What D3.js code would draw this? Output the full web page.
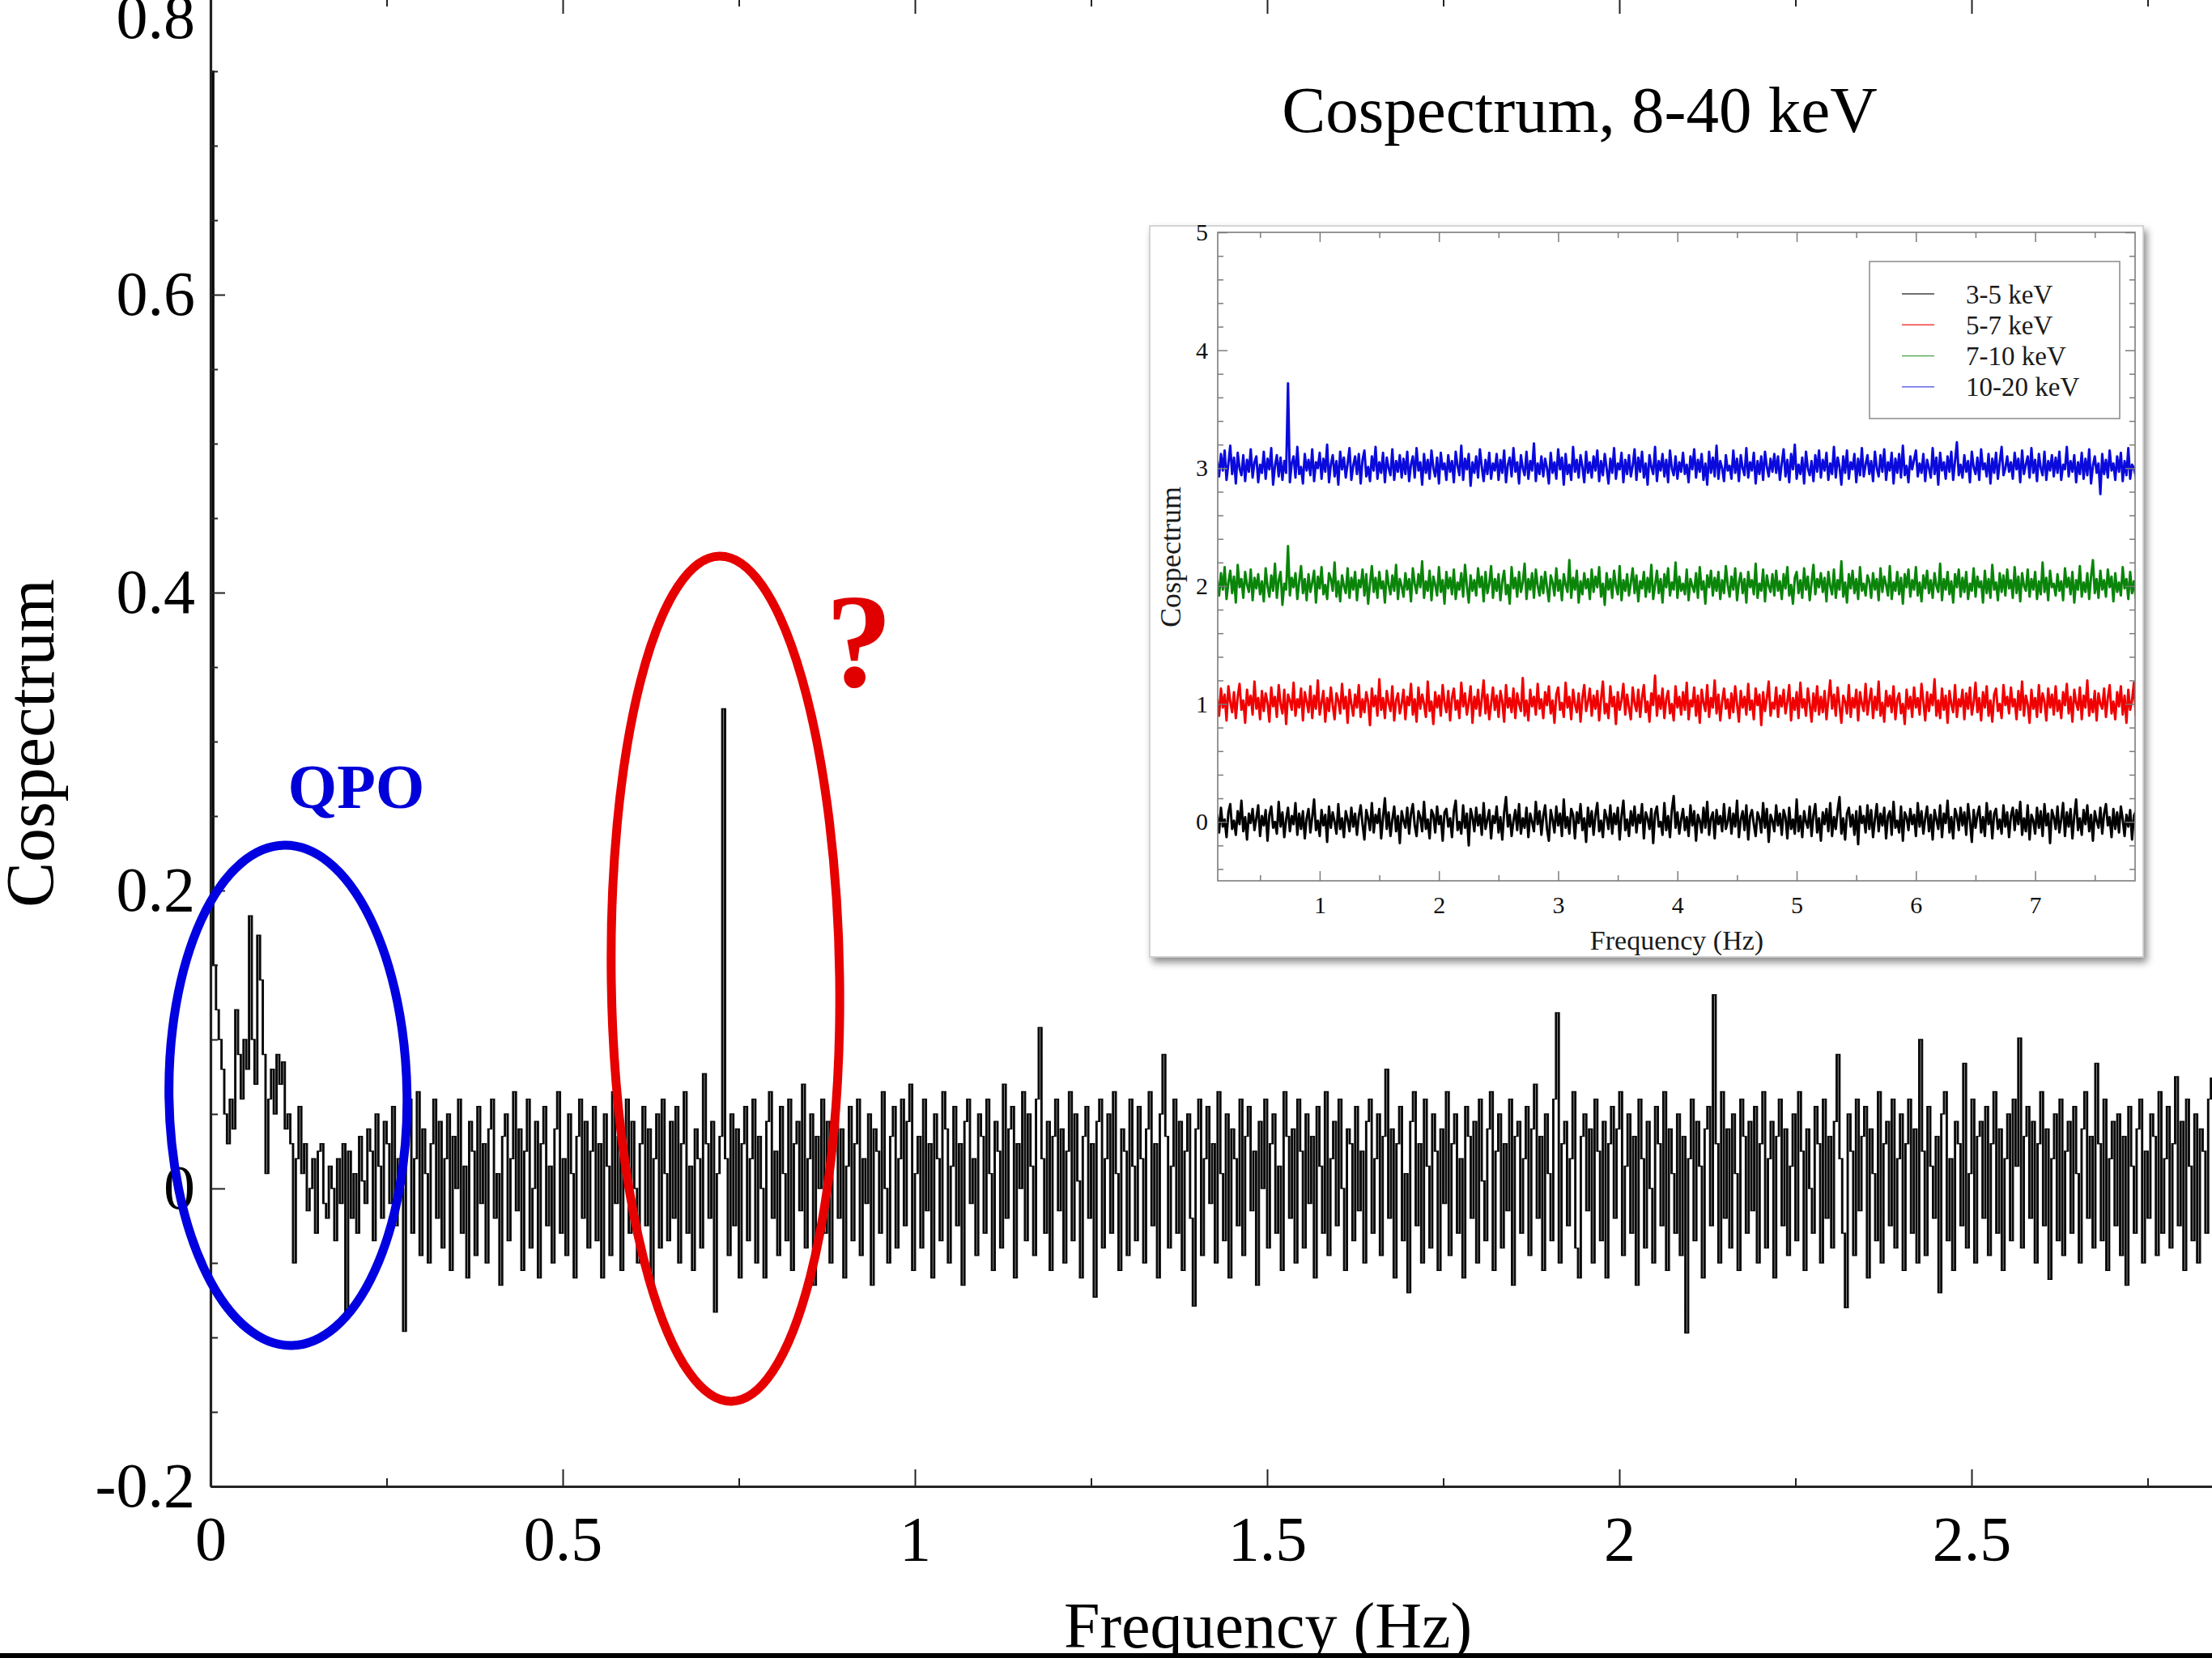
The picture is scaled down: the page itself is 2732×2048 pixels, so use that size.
<!DOCTYPE html>
<html>
<head>
<meta charset="utf-8">
<script src="https://cdn.jsdelivr.net/npm/d3@7"></script>
<style>
  html, body { margin: 0; padding: 0; background: #fff; }
  svg { display: block; }
  text { font-family: "Liberation Serif", "Times New Roman", serif; }
</style>
</head>
<body>
<svg id="chart" width="2732" height="2048"></svg>
<script>
// ---------- main cospectrum, 8-40 keV (bins of 1/256 Hz from 0 Hz) ----------
const binWidth = 1 / 256;
const cospectrum = [
  0.75, 0.15, 0.12, 0.10, 0.08, 0.05, 0.03, 0.06, 0.04, 0.12, 0.09, 0.06, 0.10, 0.08, 0.183, 0.10, 0.07, 0.17, 0.14, 0.09, 0.01, 0.06, 0.08, 0.05, 0.09, 0.07, 0.085, 0.04,
  0.05, 0.03, -0.05, 0.02, 0.055, 0.01, 0.03, -0.015, 0.0, 0.02, -0.03, 0.025, 0.03, -0.01, -0.02, 0.015, 0.0, -0.035, 0.02, -0.01, 0.03, -0.083, 0.025, -0.02, 0.01, -0.03, 0.035, 0.005,
  -0.01, 0.04, 0.025, -0.035, 0.05, 0.015, -0.02, 0.045, 0.03, -0.01, 0.055, -0.025, 0.02, 0.0, -0.096, 0.035, 0.06, -0.03, 0.02, 0.065, -0.045, 0.04, 0.01, -0.05, 0.03, 0.06, -0.02, 0.045,
  -0.04, 0.02, 0.05, -0.055, 0.035, 0.0, 0.06, -0.03, 0.015, -0.06, 0.045, 0.025, -0.045, 0.055, -0.01, 0.03, -0.05, 0.04, 0.06, -0.02, 0.01, -0.065, 0.035, 0.05, -0.035, 0.02, 0.065, -0.015,
  0.04, -0.055, 0.025, 0.06, -0.04, 0.0, 0.045, -0.06, 0.03, 0.055, -0.025, 0.015, -0.05, 0.04, 0.065, -0.03, 0.02, -0.045, 0.05, 0.01, -0.06, 0.035, 0.06, -0.02, 0.045, -0.04, 0.025, 0.055,
  -0.035, 0.03, -0.06, 0.05, 0.015, -0.045, 0.065, -0.01, 0.035, -0.055, 0.02, 0.06, -0.03, 0.045, 0.0, -0.05, 0.03, 0.055, -0.025, 0.04, -0.065, 0.02, 0.05, -0.04, 0.06, 0.01, -0.035, 0.045,
  -0.02, 0.055, -0.05, 0.03, 0.065, -0.03, 0.015, -0.055, 0.04, 0.02, -0.04, 0.077, 0.03, -0.02, 0.045, -0.083, 0.01, 0.035, 0.322, 0.02, -0.045, 0.05, -0.025, 0.04, -0.06, 0.03, 0.055, -0.035,
  0.02, 0.06, -0.05, 0.035, 0.0, -0.06, 0.045, 0.065, -0.02, 0.025, -0.045, 0.055, 0.01, -0.035, 0.06, -0.055, 0.03, 0.045, -0.015, 0.07, -0.04, 0.02, 0.05, -0.065, 0.035, 0.0, 0.06, -0.03,
  0.045, -0.05, 0.025, 0.065, -0.02, 0.04, -0.06, 0.015, 0.055, -0.035, 0.03, 0.06, -0.045, 0.02, -0.01, 0.05, -0.065, 0.04, 0.025, -0.03, 0.065, 0.0, -0.05, 0.035, 0.055, -0.04, 0.02, 0.06,
  -0.025, 0.045, 0.07, -0.055, 0.01, 0.035, -0.04, 0.06, -0.015, 0.03, -0.06, 0.05, 0.02, -0.035, 0.065, 0.04, -0.05, 0.015, 0.055, -0.025, 0.03, -0.065, 0.045, 0.06, -0.01, 0.02, -0.045, 0.05,
  0.035, -0.03, 0.06, 0.01, -0.055, 0.045, 0.025, -0.04, 0.07, -0.02, 0.04, 0.055, -0.06, 0.03, 0.0, 0.065, -0.035, 0.05, 0.015, -0.045, 0.06, 0.108, 0.02, -0.03, 0.045, -0.055, 0.035, 0.06,
  -0.015, 0.04, -0.05, 0.025, 0.065, -0.035, 0.05, 0.005, -0.06, 0.035, 0.055, -0.02, 0.03, -0.073, 0.045, 0.06, -0.04, 0.02, 0.05, -0.03, 0.065, 0.01, -0.055, 0.04, 0.025, -0.045, 0.06, 0.015,
  -0.035, 0.055, 0.02, -0.05, 0.04, 0.065, -0.025, 0.03, -0.06, 0.05, 0.09, 0.035, -0.04, 0.015, 0.06, -0.03, 0.045, -0.055, 0.025, 0.05, -0.02, -0.079, 0.04, 0.06, -0.045, 0.02, 0.055, -0.01,
  0.03, -0.05, 0.065, 0.01, -0.035, 0.05, -0.06, 0.04, 0.02, -0.025, 0.06, -0.045, 0.035, 0.055, -0.015, 0.025, -0.065, 0.045, 0.0, 0.06, -0.04, 0.03, 0.05, -0.03, 0.015, -0.055, 0.065, 0.035,
  -0.02, 0.04, -0.05, 0.06, 0.025, -0.04, 0.05, -0.01, 0.035, -0.06, 0.055, 0.015, -0.03, 0.065, -0.045, 0.02, 0.045, -0.025, 0.06, 0.0, -0.055, 0.04, 0.03, -0.035, 0.055, -0.015, 0.025, -0.05,
  0.045, 0.06, -0.03, 0.02, 0.05, -0.045, 0.035, 0.08, -0.02, 0.04, -0.06, 0.03, 0.055, -0.035, 0.01, -0.07, 0.045, 0.065, -0.025, 0.03, -0.05, 0.06, 0.015, -0.04, 0.05, 0.025, -0.055, 0.04,
  -0.01, 0.065, -0.045, 0.03, 0.05, -0.03, 0.02, -0.06, 0.055, 0.035, -0.02, 0.045, -0.05, 0.06, 0.005, -0.035, 0.04, 0.065, -0.055, 0.025, 0.05, -0.04, 0.03, -0.015, 0.06, -0.065, 0.035, 0.045,
  -0.03, 0.02, 0.055, -0.045, 0.04, 0.07, -0.02, 0.035, -0.055, 0.05, 0.01, -0.035, 0.06, 0.118, -0.05, 0.03, 0.045, -0.025, 0.02, 0.065, -0.04, -0.06, 0.035, 0.05, -0.015, 0.04, -0.05, 0.06,
  0.025, -0.035, 0.045, -0.06, 0.03, 0.055, -0.02, 0.04, 0.065, -0.045, 0.015, 0.05, -0.03, 0.035, -0.065, 0.06, 0.02, -0.04, 0.045, 0.0, -0.05, 0.055, 0.03, -0.025, 0.065, -0.055, 0.04, 0.01,
  -0.03, 0.05, -0.045, 0.035, -0.097, 0.02, 0.06, -0.035, 0.045, 0.015, -0.06, 0.04, 0.055, -0.025, 0.13, 0.03, -0.05, 0.065, -0.02, 0.04, -0.04, 0.05, 0.01, -0.055, 0.06, 0.035, -0.03, 0.045,
  -0.015, 0.055, -0.05, 0.03, 0.065, -0.04, 0.02, 0.045, -0.06, 0.035, 0.06, -0.025, 0.04, -0.045, 0.015, 0.05, -0.035, 0.065, 0.025, -0.055, 0.04, 0.0, -0.03, 0.055, 0.03, -0.05, 0.06, -0.02,
  0.035, -0.04, 0.045, 0.09, 0.02, -0.03, -0.08, 0.05, 0.025, -0.045, 0.06, -0.015, 0.035, 0.055, -0.06, 0.04, 0.01, -0.035, 0.065, -0.05, 0.03, 0.045, -0.025, 0.06, -0.04, 0.02, 0.05, -0.055,
  0.03, 0.06, -0.03, 0.04, -0.05, 0.1, 0.025, -0.045, 0.055, 0.015, -0.02, 0.035, -0.07, 0.05, 0.065, -0.035, 0.02, -0.055, 0.045, 0.03, -0.025, 0.084, -0.04, 0.01, 0.06, -0.05, 0.035, 0.045,
  -0.02, 0.055, -0.045, 0.03, 0.065, -0.03, 0.04, -0.055, 0.02, 0.05, -0.035, 0.06, 0.015, 0.101, -0.04, 0.035, 0.055, -0.02, 0.045, -0.05, 0.03, 0.065, -0.025, 0.04, -0.061, 0.02, 0.05, -0.035,
  0.06, -0.045, 0.025, 0.045, -0.03, 0.055, 0.01, -0.05, 0.04, 0.065, -0.02, 0.035, -0.04, 0.084, 0.03, -0.035, 0.06, -0.055, 0.02, 0.045, -0.025, 0.05, -0.045, 0.035, -0.065, 0.055, 0.015, -0.03,
  0.04, 0.06, -0.05, 0.025, -0.02, 0.05, 0.035, -0.045, 0.065, -0.03, 0.02, 0.055, -0.04, 0.03, 0.075, -0.025, 0.045, -0.055, 0.06, 0.015, -0.035, 0.05, -0.05, 0.04, 0.025, -0.03, 0.06, 0.074
];
const mainXTicks = [0, 0.5, 1, 1.5, 2, 2.5];
const mainXTickLabels = ["0", "0.5", "1", "1.5", "2", "2.5"];
const mainYTicks = [-0.2, 0, 0.2, 0.4, 0.6, 0.8];
const mainYTickLabels = ["-0.2", "0", "0.2", "0.4", "0.6", "0.8"];

// ---------- inset: cospectra of four energy bands (1/64 Hz grid from 9/64 Hz) ----------
const insetStartFreq = 9 / 64;
const insetFreqStep = 1 / 64;
const band3to5 = [
  0.06,-0.09,0.12,-0.04,0.02,-0.13,0.08,0.15,-0.06,0.01,-0.11,0.09,-0.02,0.18,-0.08,0.04,-0.15,0.07,-0.01,0.11,-0.07,0.03,0.14,-0.12,0.05,
  -0.03,0.1,-0.16,0.06,0.13,-0.05,0.0,-0.1,0.17,-0.04,0.08,-0.13,0.02,0.12,-0.08,0.05,-0.02,0.16,-0.11,0.07,-0.06,0.09,-0.14,0.03,0.11,
  -0.09,0.04,0.19,-0.07,0.01,-0.12,0.1,-0.03,0.06,-0.17,0.13,-0.05,0.08,0.0,-0.1,0.15,-0.06,0.03,-0.13,0.09,0.02,-0.08,0.12,-0.04,0.07,
  -0.11,0.05,0.14,-0.02,-0.15,0.1,0.03,-0.07,0.16,-0.09,0.06,-0.01,0.11,-0.14,0.04,0.2,-0.06,0.08,-0.12,0.02,0.13,-0.08,0.05,-0.18,0.09,
  0.01,-0.05,0.12,-0.1,0.07,0.15,-0.03,-0.12,0.09,0.04,-0.08,0.17,-0.06,0.02,-0.14,0.1,0.06,-0.09,0.13,-0.02,0.05,-0.16,0.08,0.11,-0.04,
  0.03,-0.13,0.09,0.18,-0.07,0.0,-0.1,0.14,-0.05,0.07,-0.2,0.11,0.04,-0.08,0.12,-0.03,0.06,-0.11,0.16,-0.06,0.02,0.1,-0.14,0.05,-0.01,
  0.13,-0.09,0.04,-0.15,0.08,0.21,-0.04,0.06,-0.12,0.01,0.1,-0.07,0.15,-0.1,0.03,-0.05,0.12,-0.13,0.07,0.0,-0.08,0.17,-0.02,0.09,-0.11,
  0.05,0.14,-0.06,-0.16,0.1,0.02,-0.09,0.13,-0.03,0.07,-0.12,0.19,-0.05,0.04,-0.1,0.11,0.06,-0.14,0.08,-0.01,0.15,-0.07,0.03,-0.17,0.12,
  -0.04,0.09,-0.11,0.06,0.16,-0.08,0.01,-0.13,0.1,0.04,-0.06,0.14,-0.1,0.07,-0.02,0.12,-0.15,0.05,0.18,-0.07,0.02,-0.12,0.09,-0.03,0.13,
  -0.09,0.06,-0.01,0.15,-0.14,0.08,0.03,-0.06,0.11,-0.18,0.07,0.13,-0.04,0.0,-0.11,0.16,-0.07,0.05,-0.13,0.1,0.22,-0.05,0.08,-0.1,0.02,
  0.11,-0.07,0.04,-0.12,0.14,-0.03,0.09,-0.16,0.06,0.01,-0.09,0.12,-0.05,0.17,-0.11,0.03,0.08,-0.14,0.1,-0.02,0.05,-0.08,0.15,-0.06,0.0,
  0.12,-0.1,0.07,-0.04,0.18,-0.13,0.02,0.09,-0.07,0.14,-0.15,0.05,0.1,-0.02,-0.12,0.08,0.03,-0.09,0.16,-0.05,0.11,-0.17,0.06,0.01,-0.08,
  0.14,-0.03,0.07,-0.11,0.1,0.04,-0.14,0.12,-0.06,0.02,-0.1,0.19,-0.08,0.05,-0.13,0.09,0.0,-0.05,0.13,-0.12,0.06,0.15,-0.09,0.03,-0.16,
  0.08,-0.02,0.11,-0.08,0.16,-0.12,0.04,-0.06,0.1,0.21,-0.1,0.03,-0.15,0.07,0.12,-0.04,0.06,-0.11,0.09,-0.19,0.13,-0.01,0.05,-0.09,0.14,
  -0.06,0.1,-0.13,0.02,0.15,-0.08,0.07,-0.03,0.12,-0.14,0.05,0.09,-0.11,0.17,-0.05,0.01,-0.09,0.13,-0.16,0.08,0.04,-0.07,0.11,-0.02,0.06,
  -0.12,0.16,-0.04,0.09,-0.1,0.03,0.13,-0.08,0.06,-0.15,0.1,0.02,-0.06,0.14,-0.13,0.07,-0.01,0.18,-0.09,0.04,-0.14,0.11,0.05,-0.07,0.12,
  -0.03,0.08,-0.11,0.15,0.01,-0.17,0.1,-0.05,0.06,0.13,-0.09,0.04,-0.12,0.16,-0.02,0.09,-0.14,0.07,0.11,-0.06,0.02,-0.1,0.14,-0.04,0.08,
  -0.13,0.05,0.12,-0.07,0.1,-0.02,0.17,-0.11,0.03,-0.08,0.14,-0.15,0.06,0.01,-0.1,0.12,-0.05,0.09,-0.12,0.15,-0.03,0.07,-0.18,0.1,0.04,
  -0.06,0.13,-0.09,0.02,0.16,-0.12,0.08,-0.04,0.11,-0.14,0.05,0.19,-0.07,0.03,-0.11,0.1,-0.02,0.14,-0.08,0.06,-0.16,0.09,0.01,-0.05,0.12,
  -0.1,0.07,0.15,-0.03,0.04,-0.13,0.11,-0.06,0.08,-0.09,0.13,0.02,-0.12,0.06,-0.04,0.1,-0.15,0.05,0.09,-0.07,0.12,-0.01,0.03,-0.11,0.08
];
const band5to7 = [
  1.04,0.9,1.13,0.97,1.08,0.86,1.15,1.02,0.93,1.1,0.88,1.06,1.17,0.95,1.03,0.84,1.12,0.99,1.07,0.91,1.19,0.96,1.05,0.87,1.11,
  0.94,1.09,1.01,0.85,1.14,0.98,1.06,0.89,1.16,1.0,0.92,1.12,0.83,1.08,1.03,0.95,1.18,0.9,1.04,0.97,1.13,0.86,1.1,1.02,0.93,
  1.15,0.88,1.07,0.96,1.2,0.91,1.01,1.11,0.85,1.05,0.94,1.14,0.99,0.87,1.09,1.03,0.92,1.17,0.96,1.06,0.84,1.12,1.0,0.9,1.08,
  0.97,1.16,0.89,1.04,0.93,1.1,1.02,0.82,1.13,0.98,1.07,0.9,1.21,0.95,1.05,0.88,1.11,1.01,0.94,1.15,0.86,1.03,1.09,0.92,1.0,
  1.12,0.87,1.06,0.99,1.17,0.91,1.04,0.85,1.14,0.96,1.08,1.0,0.89,1.19,0.94,1.02,0.83,1.1,0.97,1.07,0.9,1.16,1.01,0.93,1.11,
  0.86,1.05,1.13,0.95,1.03,0.88,1.18,0.98,1.09,0.91,1.01,1.15,0.84,1.06,0.96,1.12,0.9,1.04,1.2,0.92,1.08,0.87,1.0,1.14,0.95,
  1.07,0.89,1.11,1.02,0.85,1.16,0.97,1.05,0.93,1.13,0.88,1.09,1.0,0.94,1.22,0.9,1.03,0.86,1.12,0.98,1.06,0.91,1.17,0.96,1.04,
  0.88,1.1,0.99,1.15,0.92,1.03,0.84,1.08,1.14,0.95,1.01,0.89,1.18,0.97,1.06,0.87,1.12,1.0,0.93,1.09,0.85,1.05,1.16,0.94,1.02,
  1.13,0.9,1.07,0.96,1.11,0.86,1.04,1.19,0.92,1.0,0.88,1.15,0.98,1.06,0.83,1.1,0.95,1.03,1.17,0.91,1.08,0.97,0.87,1.14,1.01,
  0.94,1.12,0.89,1.05,1.16,0.93,1.02,0.85,1.09,0.99,1.24,0.9,1.07,0.96,1.13,0.88,1.04,1.11,0.92,1.0,0.86,1.15,0.97,1.06,0.91,
  1.1,0.95,1.18,0.87,1.03,0.98,1.14,0.9,1.07,0.84,1.12,1.01,0.94,1.16,0.89,1.05,0.97,1.2,0.92,1.08,0.86,1.02,1.13,0.96,1.04,
  0.88,1.09,0.93,1.15,1.0,0.85,1.11,0.97,1.06,0.91,1.17,0.95,1.03,0.87,1.13,0.99,1.08,0.82,1.1,0.94,1.05,1.19,0.9,1.01,0.96,
  1.14,0.89,1.07,0.98,1.12,0.92,1.02,1.16,0.86,1.05,0.95,1.1,0.88,1.18,0.97,1.04,0.9,1.13,1.0,0.85,1.09,0.94,1.15,0.91,1.06,
  0.93,1.11,0.87,1.04,1.2,0.96,1.08,0.9,1.14,0.99,0.84,1.07,1.02,0.92,1.16,0.89,1.05,0.97,1.12,0.86,1.1,1.0,0.94,1.17,0.91,
  1.03,1.13,0.88,1.06,0.95,1.19,0.9,1.01,0.85,1.11,0.98,1.07,0.93,1.15,0.87,1.04,1.09,0.92,1.0,0.83,1.12,0.96,1.06,0.89,1.14,
  0.97,1.05,0.91,1.17,1.02,0.86,1.1,0.94,1.08,0.99,1.21,0.9,1.03,0.88,1.13,0.95,1.07,0.84,1.11,1.0,0.93,1.16,0.89,1.04,0.98,
  1.12,0.87,1.09,0.96,1.14,0.91,1.01,1.18,0.93,1.05,0.86,1.1,0.97,1.15,0.9,1.03,0.85,1.08,1.13,0.94,1.0,0.88,1.16,0.99,1.06,
  0.92,1.14,0.98,1.04,0.87,1.11,0.95,1.19,0.9,1.07,1.0,0.84,1.12,0.96,1.05,0.89,1.16,0.93,1.09,1.02,0.86,1.13,0.97,1.08,0.91,
  1.15,0.94,1.03,0.88,1.1,0.99,1.17,0.92,1.06,0.85,1.12,1.01,0.95,1.14,0.87,1.07,0.97,1.2,0.9,1.04,0.93,1.11,0.86,1.09,1.0,
  0.96,1.13,0.89,1.05,1.16,0.92,1.02,0.87,1.1,0.98,1.15,0.91,1.07,0.84,1.12,0.95,1.03,1.18,0.9,1.06,0.94,1.11,0.88,1.04,0.99
];
const band7to10 = [
  2.05,1.92,2.11,1.97,2.16,1.89,2.03,2.13,1.94,2.08,1.86,2.18,1.99,2.06,1.9,2.12,2.01,1.95,2.14,1.88,2.07,1.98,2.1,1.93,2.04,
  1.87,2.15,2.0,1.91,2.09,1.96,2.19,1.9,2.05,2.12,1.84,2.02,1.97,2.34,1.92,2.07,1.99,2.11,1.89,2.04,2.17,1.94,2.06,1.88,2.1,
  1.95,2.03,2.13,1.86,2.08,1.98,2.16,1.93,2.01,1.89,2.11,2.06,1.96,2.2,1.91,2.04,1.87,2.09,2.0,1.94,2.15,1.9,2.07,1.97,2.12,
  1.88,2.05,1.99,2.14,1.92,2.1,1.85,2.02,2.17,1.95,2.07,1.9,2.12,1.98,2.04,1.86,2.13,2.01,1.93,2.09,1.96,2.18,1.89,2.06,2.0,
  1.91,2.11,1.97,2.06,1.87,2.15,2.02,1.94,2.1,1.99,2.21,1.9,2.04,1.96,2.13,1.88,2.08,2.01,1.92,2.16,1.95,2.05,1.85,2.12,1.98,
  2.07,1.93,2.14,1.89,2.03,1.97,2.11,1.91,2.18,2.0,1.86,2.09,1.96,2.05,1.92,2.15,1.99,2.08,1.87,2.12,1.94,2.02,2.17,1.9,2.06,
  1.96,2.1,1.88,2.04,2.13,1.93,2.01,1.85,2.16,1.98,2.07,1.91,2.12,1.95,2.03,2.19,1.89,2.06,1.97,2.11,1.9,2.14,2.0,1.92,2.08,
  1.94,2.12,1.99,1.87,2.09,2.03,1.92,2.15,1.96,2.05,1.88,2.1,2.01,1.95,2.22,1.9,2.07,1.97,2.13,1.86,2.04,1.93,2.11,1.98,2.06,
  1.89,2.14,1.95,2.08,1.99,2.16,1.91,2.02,1.84,2.11,1.97,2.06,1.9,2.13,2.0,1.93,2.17,1.88,2.05,1.96,2.1,1.92,2.03,2.15,1.94,
  2.09,1.87,2.04,1.98,2.12,1.91,2.07,1.95,2.18,1.89,2.01,2.13,1.94,2.06,1.86,2.1,1.99,2.15,1.92,2.03,1.97,2.2,1.9,2.08,1.96,
  2.02,1.93,2.14,1.88,2.06,2.0,1.95,2.11,1.9,2.16,1.97,2.04,1.85,2.09,1.99,2.13,1.92,2.07,1.96,2.12,1.89,2.05,1.94,2.17,2.01,
  1.91,2.08,1.97,2.15,1.88,2.03,2.11,1.94,2.06,1.86,2.12,1.99,2.05,1.93,2.19,1.9,2.02,1.96,2.14,1.87,2.09,2.0,1.95,2.1,1.92,
  2.13,1.96,2.04,1.89,2.1,1.98,2.16,1.92,2.01,1.85,2.07,2.12,1.94,2.05,1.9,2.15,1.97,2.08,1.88,2.03,2.18,1.93,2.06,1.99,2.11,
  1.95,2.07,1.87,2.12,2.0,1.93,2.14,1.9,2.05,1.97,2.21,1.91,2.03,1.86,2.1,1.98,2.13,1.94,2.06,1.89,2.16,1.96,2.02,1.92,2.09,
  2.04,1.9,2.11,1.97,2.06,1.88,2.15,1.95,2.08,2.01,1.92,2.17,1.89,2.03,1.96,2.12,1.93,2.07,1.85,2.1,1.99,2.14,1.91,2.05,1.97,
  2.16,1.92,2.03,1.87,2.09,1.98,2.13,1.94,2.05,1.9,2.11,2.0,1.95,2.19,1.88,2.06,1.97,2.12,1.93,2.04,1.86,2.1,1.99,2.14,1.91,
  2.07,1.95,2.12,1.89,2.02,1.96,2.15,1.91,2.08,1.99,2.04,1.86,2.13,1.94,2.06,1.9,2.18,1.97,2.03,1.88,2.11,1.95,2.09,1.92,2.14,
  1.98,2.05,1.9,2.16,1.94,2.08,1.87,2.11,2.0,1.96,2.14,1.91,2.06,1.97,2.12,1.89,2.04,1.93,2.2,1.95,2.07,1.88,2.13,1.99,2.02,
  1.92,2.1,1.96,2.04,1.88,2.15,1.99,2.07,1.93,2.12,1.86,2.05,1.97,2.17,1.91,2.03,1.95,2.11,1.89,2.08,2.22,1.94,2.06,1.9,2.13,
  1.97,2.05,1.91,2.14,1.99,2.08,1.87,2.11,1.95,2.03,1.92,2.16,1.98,2.06,1.89,2.12,1.94,2.04,1.9,2.1,1.96,2.15,1.93,2.07,2.01
];
const band10to20 = [
  3.06,2.93,3.12,2.98,3.15,2.9,3.04,3.19,2.95,3.09,2.87,3.13,3.0,2.94,3.11,2.89,3.07,2.97,3.16,2.92,3.05,3.1,2.88,3.03,2.96,
  3.14,2.91,3.08,2.99,3.17,2.86,3.02,3.11,2.93,3.09,2.9,3.06,2.96,3.72,2.88,3.04,3.1,2.92,3.18,2.95,3.01,2.87,3.12,2.98,3.07,
  2.94,3.16,2.89,3.05,3.0,3.13,2.91,3.08,2.97,3.2,2.88,3.03,3.11,2.93,3.06,2.86,3.14,2.99,3.09,2.92,3.04,3.17,2.9,3.02,3.1,
  2.95,3.12,2.87,3.07,3.15,2.93,3.01,2.89,3.1,2.98,3.18,2.91,3.05,2.96,3.13,2.88,3.09,3.0,2.94,3.16,2.9,3.06,2.97,3.11,2.92,
  3.08,2.95,3.14,2.89,3.03,3.1,2.92,3.17,2.98,3.05,2.86,3.12,2.96,3.07,2.91,3.15,3.0,2.93,3.09,2.87,3.13,2.99,3.04,2.9,3.11,
  2.97,3.06,2.88,3.14,3.02,2.94,3.19,2.9,3.08,2.99,3.12,2.85,3.05,2.96,3.1,2.92,3.16,3.01,2.89,3.07,2.95,3.13,2.91,3.04,2.98,
  3.12,2.9,3.07,2.96,3.15,2.88,3.03,3.09,2.93,3.17,2.97,3.05,2.87,3.11,3.0,2.94,3.14,2.91,3.06,2.98,3.21,2.89,3.04,2.95,3.1,
  2.93,3.08,3.0,2.87,3.13,2.96,3.05,2.91,3.16,2.99,3.09,2.86,3.12,2.95,3.03,2.9,3.18,2.97,3.07,2.92,3.11,3.01,2.88,3.14,2.96,
  3.05,2.92,3.1,2.98,3.15,2.89,3.06,2.94,3.12,3.0,2.87,3.08,2.96,3.17,2.91,3.04,2.99,3.13,2.88,3.07,2.95,3.11,2.93,3.02,3.16,
  2.9,3.09,2.97,3.14,2.92,3.04,2.86,3.11,3.01,2.95,3.18,2.89,3.06,2.98,3.12,2.93,3.07,2.88,3.15,3.0,2.94,3.1,2.91,3.05,2.97,
  3.13,2.95,3.03,2.88,3.1,2.99,3.16,2.92,3.07,2.97,3.12,2.9,3.04,2.86,3.14,2.96,3.09,2.93,3.19,2.91,3.06,3.0,2.89,3.11,2.98,
  3.02,2.91,3.15,2.96,3.08,2.89,3.11,3.0,2.94,3.17,2.92,3.05,2.98,3.13,2.87,3.06,2.95,3.1,2.9,3.14,3.01,2.93,3.08,2.97,3.12,
  2.96,3.1,2.9,3.04,3.16,2.93,3.07,2.88,3.12,2.99,3.2,2.91,3.03,2.95,3.09,2.87,3.14,3.0,2.94,3.06,2.89,3.11,2.97,3.15,2.92,
  3.07,2.98,3.13,2.9,3.04,2.95,3.18,2.92,3.09,3.01,2.86,3.1,2.96,3.15,2.91,3.05,2.99,3.12,2.88,3.08,2.94,3.17,2.93,3.03,3.11,
  2.95,3.06,2.89,3.14,3.0,2.93,3.11,2.97,3.16,2.9,3.05,2.98,3.13,2.87,3.08,2.96,3.12,2.92,3.19,2.94,3.02,2.88,3.1,2.99,3.07,
  3.15,2.93,3.04,2.96,3.12,2.89,3.07,3.0,2.92,3.17,2.95,3.09,2.86,3.13,2.98,3.05,2.91,3.1,2.97,3.14,2.9,3.06,3.22,2.94,3.03,
  2.92,3.11,2.97,3.06,2.88,3.14,3.01,2.95,3.09,2.9,3.16,2.99,3.04,2.93,3.12,2.87,3.08,2.96,3.13,2.91,3.05,3.18,2.94,3.0,3.1,
  2.97,3.05,2.91,3.13,2.99,3.08,2.88,3.15,2.95,3.03,3.1,2.92,3.17,2.96,3.07,2.89,3.12,3.0,2.94,3.14,2.9,3.06,2.98,3.11,2.93,
  3.09,2.96,3.14,2.9,3.03,2.99,3.18,2.93,3.06,2.97,3.11,2.88,3.05,2.95,3.13,2.91,3.08,2.94,3.16,2.87,3.02,3.1,2.96,3.04,2.78,
  3.12,2.95,3.07,2.92,3.15,2.98,3.04,2.9,3.1,2.97,3.13,2.89,3.06,2.94,3.17,2.91,3.03,3.0,2.93,3.11,2.96,3.08,2.9,3.14,2.99
];
const insetBandNames = ["3-5 keV", "5-7 keV", "7-10 keV", "10-20 keV"];
const insetXTicks = [1, 2, 3, 4, 5, 6, 7];
const insetYTicks = [0, 1, 2, 3, 4, 5];

// ---------- drawing ----------
const svg = d3.select("#chart");
const SERIF = '"Liberation Serif", "Times New Roman", serif';

const defs = svg.append("defs");
defs.append("filter").attr("id", "insetShadow")
  .attr("x", "-5%").attr("y", "-5%").attr("width", "115%").attr("height", "115%")
  .append("feDropShadow")
  .attr("dx", 4).attr("dy", 6).attr("stdDeviation", 5)
  .attr("flood-color", "#000").attr("flood-opacity", 0.45);

svg.append("rect").attr("width", 2732).attr("height", 2048).attr("fill", "#fff");

// main scales: 870 px per Hz, 1840 px per unit of cospectrum
const x = d3.scaleLinear().domain([0, 2472 / 870]).range([260, 2732]);
const y = d3.scaleLinear().domain([-0.2, 0.8]).range([1836, -4]);

// spectrum as a step histogram; drawn in a half-width frame stretched back by 2
// so that the vertical risers come out heavier than the horizontal treads
const xHalf = x.copy().range(x.range().map(v => v / 2));
const mainPts = cospectrum.map((v, i) => [i * binWidth, v]);
mainPts.push([cospectrum.length * binWidth, cospectrum[cospectrum.length - 1]]);
const stepLine = d3.line().x(d => xHalf(d[0])).y(d => y(d[1])).curve(d3.curveStepAfter);
svg.append("g").attr("transform", "scale(2,1)")
  .append("path").datum(mainPts)
  .attr("d", stepLine)
  .attr("fill", "none").attr("stroke", "#0a0a0a")
  .attr("stroke-width", 1.45).attr("stroke-linejoin", "miter");

// axes
function styleAxis(g, size) {
  g.attr("font-family", SERIF).attr("font-size", size);
  g.selectAll("text").attr("fill", "#000");
  g.selectAll(".tick line").attr("stroke", "#222").attr("stroke-width", 2);
}
const xMinor = d3.range(0, 2.85, 0.25).filter(v => !mainXTicks.includes(v));
const yMinor = d3.range(-0.2, 0.801, 0.05).map(v => +v.toFixed(2)).filter(v => !mainYTicks.includes(v));

const gxb = svg.append("g").attr("transform", `translate(0,${y(-0.2)})`)
  .call(d3.axisBottom(x).tickValues(mainXTicks).tickSize(-21).tickSizeOuter(0).tickPadding(36)
    .tickFormat((d, i) => mainXTickLabels[i]));
styleAxis(gxb, 78);
gxb.select(".domain").attr("stroke", "#222").attr("stroke-width", 3.2);
const gxbm = svg.append("g").attr("transform", `translate(0,${y(-0.2)})`)
  .call(d3.axisBottom(x).tickValues(xMinor).tickSize(-10).tickFormat(""));
gxbm.select(".domain").remove();
styleAxis(gxbm, 10);

const gxt = svg.append("g").attr("transform", `translate(0,${y(0.8)})`)
  .call(d3.axisTop(x).tickValues(mainXTicks).tickSize(-21).tickFormat(""));
gxt.select(".domain").remove();
styleAxis(gxt, 10);
const gxtm = svg.append("g").attr("transform", `translate(0,${y(0.8)})`)
  .call(d3.axisTop(x).tickValues(xMinor).tickSize(-12).tickFormat(""));
gxtm.select(".domain").remove();
styleAxis(gxtm, 10);

const gyl = svg.append("g").attr("transform", `translate(${x(0)},0)`)
  .call(d3.axisLeft(y).tickValues(mainYTicks).tickSize(-18).tickSizeOuter(0).tickPadding(19)
    .tickFormat((d, i) => mainYTickLabels[i]));
styleAxis(gyl, 78);
gyl.select(".domain").attr("stroke", "#222").attr("stroke-width", 3.2);
gyl.selectAll(".tick").filter(d => d === 0.8).select("text").attr("y", 26);
const gylm = svg.append("g").attr("transform", `translate(${x(0)},0)`)
  .call(d3.axisLeft(y).tickValues(yMinor).tickSize(-9).tickFormat(""));
gylm.select(".domain").remove();
styleAxis(gylm, 10);

// axis titles
svg.append("text")
  .attr("x", 1566).attr("y", 2035)
  .attr("text-anchor", "middle").attr("font-size", 80)
  .text("Frequency (Hz)");
svg.append("text")
  .attr("transform", "translate(66,918) rotate(-90)")
  .attr("text-anchor", "middle").attr("font-size", 84)
  .text("Cospectrum");
svg.append("text")
  .attr("x", 1951).attr("y", 163)
  .attr("text-anchor", "middle").attr("font-size", 81)
  .text("Cospectrum, 8-40 keV");

// ---------- inset ----------
const inset = svg.append("g");
inset.append("rect")
  .attr("x", 1420).attr("y", 279).attr("width", 1227).attr("height", 903)
  .attr("fill", "#fff").attr("stroke", "#c8c8c8").attr("stroke-width", 1.5)
  .attr("filter", "url(#insetShadow)");

const xi = d3.scaleLinear().domain([0.145, 7.838]).range([1504, 2637]);
const yi = d3.scaleLinear().domain([-0.5, 5]).range([1088, 287]);

defs.append("clipPath").attr("id", "insetClip")
  .append("rect").attr("x", 1504).attr("y", 287).attr("width", 1133).attr("height", 801);

const bandSeries = [band3to5, band5to7, band7to10, band10to20];
const bandColors = ["#000000", "#f00000", "#0a850a", "#0a0adc"];
const insetLine = d3.line()
  .x((d, i) => xi(insetStartFreq + i * insetFreqStep))
  .y(d => yi(d));
const bandsG = inset.append("g").attr("clip-path", "url(#insetClip)");
bandSeries.forEach((vals, k) => {
  bandsG.append("path").datum(vals)
    .attr("d", insetLine)
    .attr("fill", "none")
    .attr("stroke", bandColors[k])
    .attr("stroke-width", 3.0)
    .attr("stroke-linejoin", "round");
});

// inset frame & ticks
inset.append("rect")
  .attr("x", 1504).attr("y", 287).attr("width", 1133).attr("height", 801)
  .attr("fill", "none").attr("stroke", "#7c7c7c").attr("stroke-width", 1.6);

const ixMinor = d3.range(0.5, 7.8, 1);
const iyMinor = d3.range(-0.4, 5, 0.2).map(v => +v.toFixed(1)).filter(v => !Number.isInteger(v));
function styleInset(g) {
  g.select(".domain").remove();
  g.attr("font-family", SERIF).attr("font-size", 30);
  g.selectAll(".tick line").attr("stroke", "#7c7c7c").attr("stroke-width", 1.5);
  g.selectAll("text").attr("fill", "#111");
}
styleInset(inset.append("g").attr("transform", "translate(0,1088)")
  .call(d3.axisBottom(xi).tickValues(insetXTicks).tickSize(-12).tickPadding(19).tickFormat(d3.format("d"))));
styleInset(inset.append("g").attr("transform", "translate(0,1088)")
  .call(d3.axisBottom(xi).tickValues(ixMinor).tickSize(-7).tickFormat("")));
styleInset(inset.append("g").attr("transform", "translate(0,287)")
  .call(d3.axisTop(xi).tickValues(insetXTicks).tickSize(-12).tickFormat("")));
styleInset(inset.append("g").attr("transform", "translate(0,287)")
  .call(d3.axisTop(xi).tickValues(ixMinor).tickSize(-7).tickFormat("")));
styleInset(inset.append("g").attr("transform", "translate(1504,0)")
  .call(d3.axisLeft(yi).tickValues(insetYTicks).tickSize(-12).tickPadding(12).tickFormat(d3.format("d"))));
styleInset(inset.append("g").attr("transform", "translate(1504,0)")
  .call(d3.axisLeft(yi).tickValues(iyMinor).tickSize(-7).tickFormat("")));
styleInset(inset.append("g").attr("transform", "translate(2637,0)")
  .call(d3.axisRight(yi).tickValues(insetYTicks).tickSize(-12).tickFormat("")));
styleInset(inset.append("g").attr("transform", "translate(2637,0)")
  .call(d3.axisRight(yi).tickValues(iyMinor).tickSize(-7).tickFormat("")));

inset.append("text")
  .attr("x", 2071).attr("y", 1173)
  .attr("text-anchor", "middle").attr("font-size", 34).attr("fill", "#1a1a1a")
  .text("Frequency (Hz)");
inset.append("text")
  .attr("transform", "translate(1458,688) rotate(-90)")
  .attr("text-anchor", "middle").attr("font-size", 36).attr("fill", "#1a1a1a")
  .attr("font-family", '"Liberation Sans Narrow", "DejaVu Sans Condensed", sans-serif')
  .text("Cospectrum");

// legend
const legend = inset.append("g");
legend.append("rect")
  .attr("x", 2309).attr("y", 323).attr("width", 309).attr("height", 194)
  .attr("fill", "#fff").attr("stroke", "#8a8a8a").attr("stroke-width", 1.5);
insetBandNames.forEach((name, k) => {
  const ly = 363 + k * 38.3;
  legend.append("line")
    .attr("x1", 2349).attr("x2", 2389).attr("y1", ly).attr("y2", ly)
    .attr("stroke", bandColors[k]).attr("stroke-width", 1.4).attr("opacity", 0.75);
  legend.append("text")
    .attr("x", 2428).attr("y", ly).attr("dy", "0.35em")
    .attr("font-size", 33).attr("fill", "#1a1a1a")
    .text(name);
});

// ---------- annotations ----------
svg.append("ellipse")
  .attr("cx", x(0.11)).attr("cy", y(0.0625))
  .attr("rx", 147).attr("ry", 309)
  .attr("transform", `rotate(-0.8,${x(0.11)},${y(0.0625)})`)
  .attr("fill", "none").attr("stroke", "#0000e0").attr("stroke-width", 11);
svg.append("text")
  .attr("x", 440).attr("y", 998)
  .attr("text-anchor", "middle").attr("font-size", 78).attr("font-weight", "bold")
  .attr("fill", "#0000d8")
  .text("QPO");

svg.append("ellipse")
  .attr("cx", x(0.731)).attr("cy", y(0.1408))
  .attr("rx", 141).attr("ry", 522)
  .attr("transform", `rotate(-0.8,${x(0.731)},${y(0.1408)})`)
  .attr("fill", "none").attr("stroke", "#e60000").attr("stroke-width", 11);
svg.append("text")
  .attr("x", 1061).attr("y", 848)
  .attr("text-anchor", "middle").attr("font-size", 165).attr("font-weight", "bold")
  .attr("fill", "#e00000")
  .text("?");

// bottom strip
svg.append("rect").attr("x", 0).attr("y", 2042).attr("width", 2732).attr("height", 6).attr("fill", "#000");
</script>
</body>
</html>
